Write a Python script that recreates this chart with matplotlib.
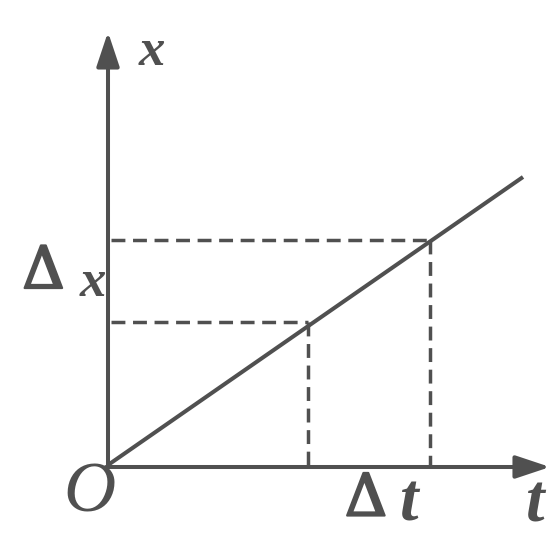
import numpy as np
import matplotlib.pyplot as plt
import matplotlib.patheffects as pe

# x-t graph, units: 1 unit = 100 px
line_t = [0.0, 4.15]
line_x = [0.0, 2.88]
mark_t = [2.0, 3.22]       # the two dashed drop lines
mark_x = [1.43, 2.25]
axis_t_end = 4.42
axis_x_end = 4.33

ink = "#505050"

fig = plt.figure(figsize=(5.51, 5.36), dpi=100)
ax = fig.add_axes([0, 0, 1, 1])
ax.set_xlim(-1.08, 4.43)
ax.set_ylim(-0.71, 4.65)
ax.axis("off")

# axes with arrows
arr = dict(arrowstyle="-|>,head_length=1.5,head_width=0.5", lw=2.9,
           color=ink, shrinkA=0, shrinkB=0, mutation_scale=14)
ax.annotate("", xy=(0, axis_x_end), xytext=(0, -0.02), arrowprops=arr,
            annotation_clip=False)
ax.annotate("", xy=(axis_t_end, -0.02), xytext=(-0.02, -0.02), arrowprops=arr,
            annotation_clip=False)

# x-t line
ax.plot(line_t, line_x, color=ink, lw=2.9, solid_capstyle="butt")

# dashed guide lines
for tt, xx in zip(mark_t, mark_x):
    ax.plot([0.03, tt], [xx, xx], color=ink, lw=2.5, linestyle=(0, (4, 2.2)))
    ax.plot([tt, tt], [xx, 0], color=ink, lw=2.5, linestyle=(0, (4, 2.2)))

serif = ["Liberation Serif", "DejaVu Serif"]
it = dict(family=serif, style="italic", color=ink, ha="center", va="center")
# thicken the delta a bit, the printed one is heavier than DejaVu regular
delta = dict(family="DejaVu Serif", color=ink, ha="center", va="center",
             path_effects=[pe.withStroke(linewidth=1.6, foreground=ink)])

ax.text(0.44, 4.13, "x", fontsize=38, weight="bold", **it)
ax.text(-0.645, 1.93, "Δ", fontsize=42, **delta)
ax.text(-0.15, 1.82, "x", fontsize=38, weight="bold", **it)
ax.text(-0.19, -0.29, "O", fontsize=52, **it)
ax.text(2.58, -0.345, "Δ", fontsize=42, **delta)
ax.text(3.01, -0.39, "t", fontsize=48, weight="bold", **it)
ax.text(4.27, -0.40, "t", fontsize=48, weight="bold", **it)

fig.savefig("out.png", dpi=100)
